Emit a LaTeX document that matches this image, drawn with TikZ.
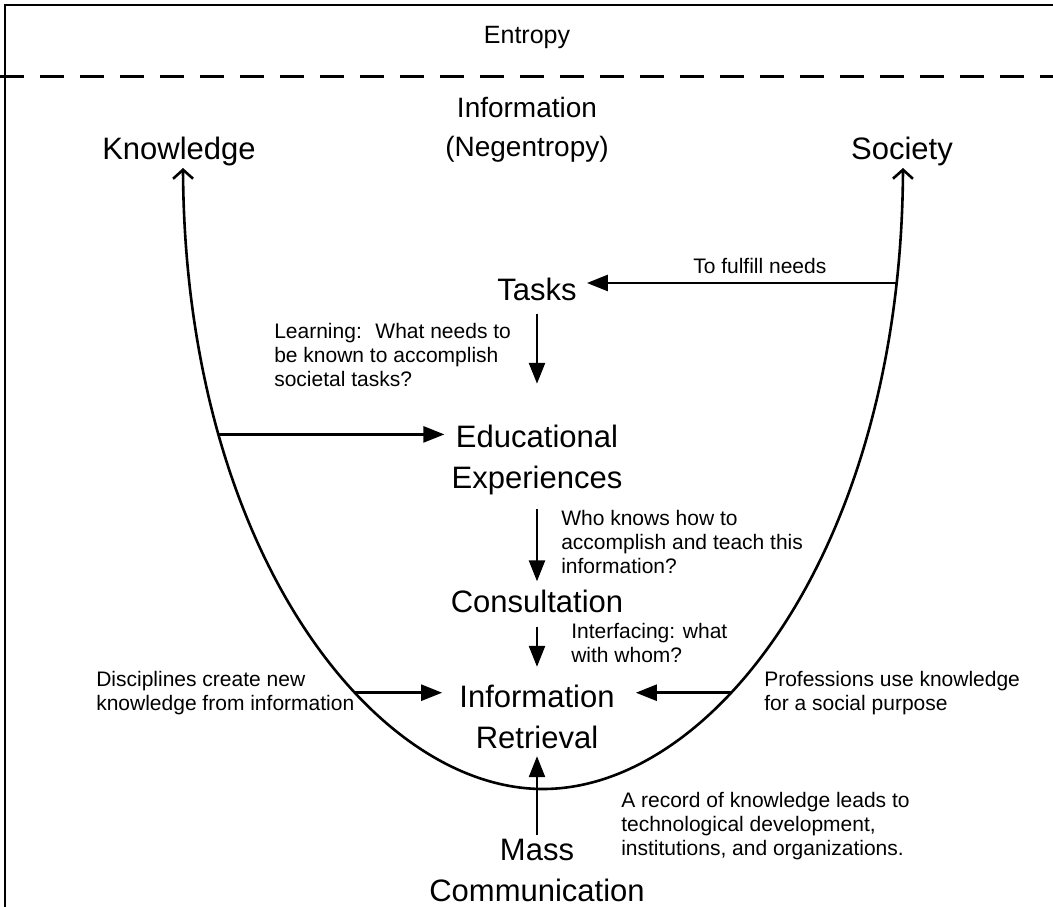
\documentclass[tikz,border=0pt]{standalone}
\usepackage{fontspec}
\setmainfont{Liberation Sans}
\usetikzlibrary{arrows.meta}
\begin{document}
\begin{tikzpicture}[x=1pt,y=-1pt,line width=2.6pt,
    big/.style={font=\fontsize{31}{41}\selectfont,align=center,inner sep=0pt},
    note/.style={font=\fontsize{21}{24}\selectfont,align=left,inner sep=0pt,anchor=north west},
    flow/.style={-{Triangle[length=21pt,width=16pt]}},
    rise/.style={{Straight Barb[length=9pt,width=20pt]}-{Straight Barb[length=9pt,width=20pt]}}]
  \useasboundingbox (0,0) rectangle (1053,907);
  % ------ frame and entropy line -----------------
  \draw[line width=2pt] (5,907) -- (5,5) -- (1053,5);
  \draw[line width=3pt,dash pattern=on 24pt off 16pt] (0,77) -- (1053,77);
  \node[big,font=\fontsize{25}{30}\selectfont] (entropy) at (527,37) {Entropy};
  \node[big,font=\fontsize{28}{39}\selectfont] (negent) at (527,130) {Information\\(Negentropy)};
  \node[big] (know) at (179,151) {Knowledge};
  \node[big] (soc) at (902,151) {Society};
  % ------ the U between knowledge and society -----------------
  \draw[rise] (183,168) .. controls (185,548) and (373,789) .. (543,789)
      coordinate[pos=0.26] (ledu) coordinate[pos=0.625] (lir)
    .. controls (713,789) and (901,548) .. (903,168)
      coordinate[pos=0.375] (rir) coordinate[pos=0.895] (rtask);
  % ------ chain down the middle -----------------
  \node[big] (tasks) at (537,289) {Tasks};
  \node[big] (edu) at (537,460) {Educational\\Experiences};
  \node[big] (cons) at (537,601) {Consultation};
  \node[big] (ir) at (537,717) {Information\\Retrieval};
  \node[big] (mass) at (537,870) {Mass\\Communication};
  \draw[flow,shorten >=9pt] (rtask) -- (rtask -| tasks.east);
  \draw[flow] ([yshift=-12pt]tasks.south) -- ([yshift=40pt]edu.north);
  \draw[flow,shorten >=6pt] (ledu) -- (ledu -| edu.west);
  \draw[flow] ([yshift=-13pt]edu.south) -- ([yshift=7pt]cons.north);
  \draw[flow] ([yshift=-13pt]cons.south) -- ([yshift=17pt]ir.north);
  \draw[flow,shorten >=16pt] (lir) -- (lir -| ir.west);
  \draw[flow,shorten >=20pt] (rir) -- (rir -| ir.east);
  \draw[flow] ([yshift=2pt]mass.north) -- ([yshift=-6pt]ir.south);
  % ------ notes -----------------
  \node[note] (fulfil) at (692,257) {To fulfill needs};
  \node[note] (learn) at (273,322) {Learning:~ What needs to\\be known to accomplish\\societal tasks?};
  \node[note] (who) at (560,509) {Who knows how to\\accomplish and teach this\\information?};
  \node[note] (iface) at (570,622) {Interfacing: what\\with whom?};
  \node[note] (disc) at (95,670) {Disciplines create new\\knowledge from information};
  \node[note] (prof) at (763,670) {Professions use knowledge\\for a social purpose};
  \node[note] (record) at (620,791) {A record of knowledge leads to\\technological development,\\institutions, and organizations.};
\end{tikzpicture}
\end{document}
